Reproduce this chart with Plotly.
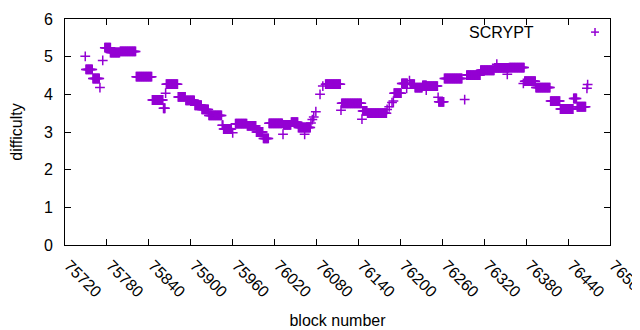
import plotly.graph_objects as go

# Runs of constant difficulty: (first block, last block, difficulty)
run_start = [75749, 75750, 75760, 75770, 75774, 75777, 75785, 75799, 75822, 75845,
             75861, 75864, 75865, 75882, 75893, 75906, 75916, 75926, 75945, 75947,
             75960, 75964, 75981, 75994, 76004, 76012, 76032, 76033, 76044, 76054,
             76063, 76072, 76074, 76076, 76079, 76085, 76089, 76093, 76115, 76116,
             76145, 76146, 76153, 76181, 76184, 76188, 76190, 76191, 76202, 76209,
             76213, 76214, 76221, 76232, 76237, 76238, 76254, 76255, 76263, 76292,
             76295, 76315, 76335, 76338, 76353, 76356, 76376, 76378, 76394, 76415,
             76429, 76448, 76453, 76467, 76468]
run_end = [75749, 75759, 75769, 75770, 75774, 75785, 75798, 75821, 75844, 75860,
           75863, 75864, 75881, 75892, 75905, 75915, 75925, 75944, 75946, 75958,
           75960, 75980, 75993, 76003, 76011, 76031, 76032, 76043, 76053, 76071,
           76063, 76072, 76074, 76076, 76079, 76085, 76089, 76114, 76115, 76144,
           76145, 76152, 76180, 76181, 76184, 76188, 76190, 76201, 76210, 76209,
           76213, 76220, 76231, 76237, 76237, 76253, 76254, 76262, 76288, 76292,
           76314, 76334, 76355, 76338, 76353, 76377, 76376, 76393, 76414, 76428,
           76447, 76452, 76465, 76467, 76468]
run_value = [5.01, 4.66, 4.42, 4.18, 4.90, 5.24, 5.11, 5.14, 4.47, 3.85,
             3.63, 4.03, 4.27, 3.93, 3.84, 3.71, 3.60, 3.44, 3.18, 3.08,
             2.98, 3.22, 3.16, 3.00, 2.83, 3.23, 2.94, 3.19, 3.26, 3.12,
             2.94, 3.24, 3.33, 3.40, 3.54, 4.00, 4.22, 4.27, 3.58, 3.76,
             3.34, 3.56, 3.50, 3.60, 3.67, 3.78, 3.82, 4.03, 4.29, 4.16,
             4.36, 4.27, 4.18, 4.24, 4.11, 4.22, 3.92, 3.80, 4.42, 3.86,
             4.51, 4.64, 4.70, 4.80, 4.53, 4.71, 4.29, 4.35, 4.18, 3.82,
             3.61, 3.89, 3.67, 4.16, 4.26]

x_ticks = list(range(75720, 76501, 60))
y_ticks = [0, 1, 2, 3, 4, 5, 6]

blocks, diffs = [], []
for s, e, v in zip(run_start, run_end, run_value):
    for b in range(s, e + 1):
        blocks.append(b)
        diffs.append(v)

COLOR = "#9400D3"
FONT = "Liberation Sans"

fig = go.Figure()
fig.add_trace(go.Scatter(
    x=blocks, y=diffs, mode="markers", name="SCRYPT",
    marker=dict(symbol="cross-thin", size=7, color=COLOR,
                line=dict(color=COLOR, width=1.5)),
    showlegend=False, cliponaxis=False,
))

axis_common = dict(
    showgrid=False, zeroline=False, showline=True, linecolor="black",
    linewidth=1, mirror="ticks", ticks="inside", ticklen=6,
    tickcolor="black", tickfont=dict(family=FONT, size=16, color="black"),
    automargin=False,
)
fig.update_xaxes(range=[75720, 76500], tickvals=x_ticks,
                 ticktext=[str(t) for t in x_ticks], tickangle=45,
                 ticklabeloverflow="allow", ticklabelshift=4,
                 ticklabelstandoff=4,
                 title=dict(text="block number", standoff=15,
                            font=dict(family=FONT, size=16, color="black")),
                 **axis_common)
fig.update_yaxes(range=[0, 6], tickvals=y_ticks,
                 ticktext=[str(t) for t in y_ticks], ticklabelstandoff=8,
                 title=dict(text="difficulty", standoff=19,
                            font=dict(family=FONT, size=16, color="black")),
                 **axis_common)

# legend drawn gnuplot-style: text then sample to the right
fig.add_annotation(xref="paper", yref="paper", x=0.865, y=0.942,
                   xanchor="right", yanchor="middle", text="SCRYPT",
                   showarrow=False, font=dict(family=FONT, size=16, color="black"))
fig.add_shape(type="line", xref="paper", yref="paper",
              x0=0.9652, x1=0.9798, y0=0.942, y1=0.942,
              line=dict(color=COLOR, width=1.5))
fig.add_shape(type="line", xref="paper", yref="paper",
              x0=0.9725, x1=0.9725, y0=0.925, y1=0.960,
              line=dict(color=COLOR, width=1.5))

fig.update_layout(
    width=640, height=330, autosize=False,
    margin=dict(l=57, r=38, t=11, b=93),
    plot_bgcolor="white", paper_bgcolor="white",
    font=dict(family=FONT, size=16, color="black"),
)
fig.write_html("out.html")
